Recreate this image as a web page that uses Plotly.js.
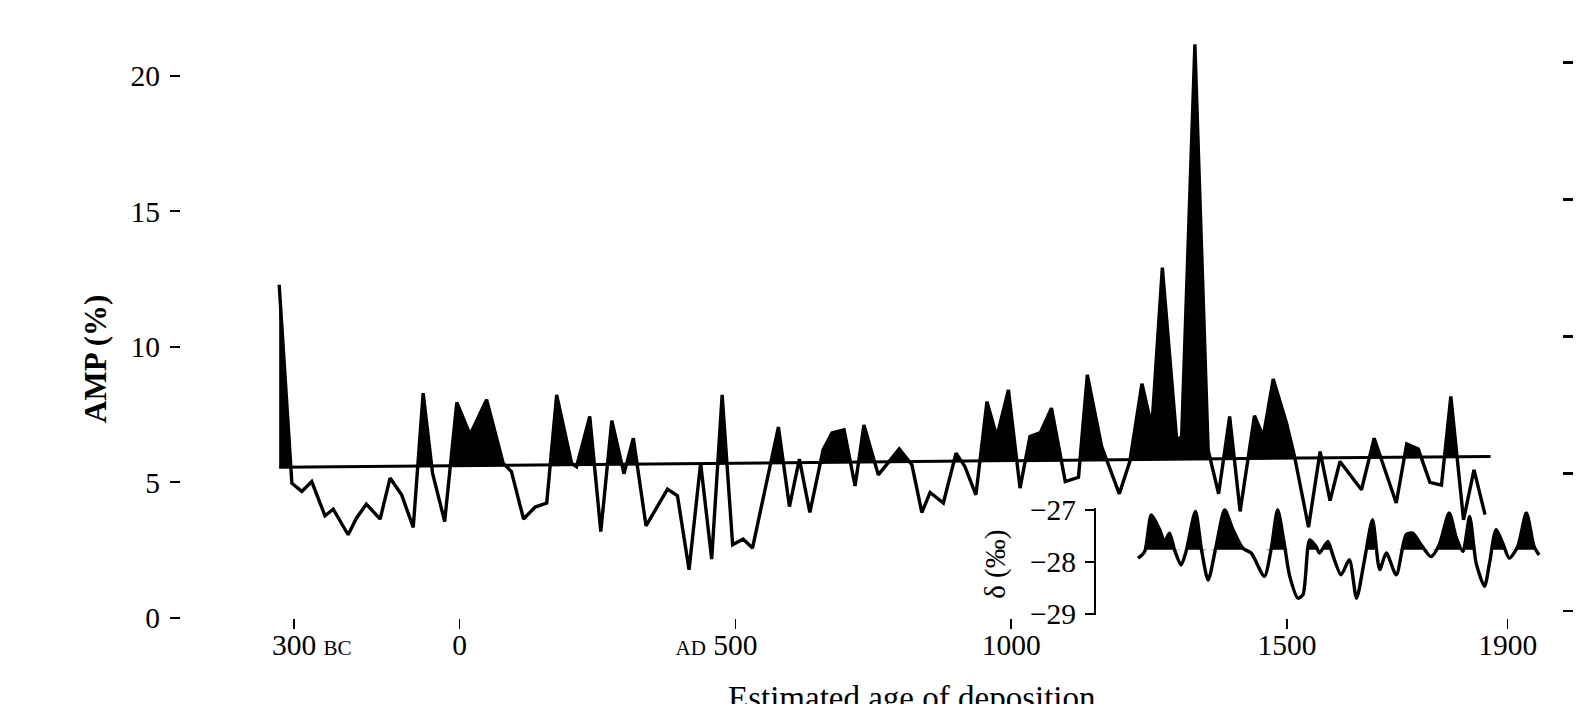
<!DOCTYPE html>
<html>
<head>
<meta charset="utf-8">
<script src="https://cdn.plot.ly/plotly-3.0.1.min.js"></script>
<style>
  html, body { margin: 0; padding: 0; background: #fff; }
  #chart { width: 1584px; height: 704px; }
</style>
</head>
<body>
<div id="chart"></div>
<script>
// ---- Data ----
const ampYears = [-327,-304,-286,-268,-244,-229,-202,-187,-169,-144,-126,-105,-84,-66,-49,-27,-5,19,49,79,94,116,137,158,176,203,212,236,256,276,298,315,338,377,395,416,437,457,476,495,514,531,578,598,616,635,659,675,697,717,733,759,797,820,838,853,877,900,916,936,956,974,995,1016,1034,1053,1073,1098,1122,1138,1164,1196,1215,1237,1255,1274,1300,1309,1333,1357,1376,1396,1415,1441,1457,1475,1499,1513,1539,1560,1578,1596,1635,1658,1698,1717,1738,1759,1780,1797,1820,1839,1859];
const ampValues = [12.29,4.97,4.67,5.03,3.77,4.01,3.07,3.68,4.20,3.65,5.16,4.54,3.34,8.29,5.34,3.56,7.95,6.76,8.05,5.71,5.40,3.65,4.09,4.24,8.23,5.71,5.58,7.43,3.19,7.28,5.32,6.63,3.40,4.75,4.51,1.78,5.71,2.17,8.23,2.70,2.91,2.58,7.04,4.11,5.86,3.89,6.20,6.82,6.94,4.87,7.12,5.28,6.23,5.65,3.89,4.63,4.24,6.08,5.59,4.54,7.98,6.69,8.41,4.79,6.69,6.84,7.74,5.03,5.19,8.97,6.32,4.58,5.77,8.64,7.06,12.92,6.57,6.69,21.16,6.20,4.58,7.43,3.93,7.46,6.69,8.81,7.19,6.02,3.35,6.14,4.33,5.77,4.73,6.63,4.24,6.42,6.23,5.00,4.90,8.17,3.62,5.46,3.81];

const trendYears = [-327, 1869];
const trendValues = [5.56, 5.96];

const deltaYears = [1230,1242,1254,1269,1278,1287,1296,1308,1317,1334,1345,1357,1372,1387,1402,1420,1435,1459,1471,1483,1494,1505,1520,1529,1541,1553,1559,1574,1583,1598,1613,1626,1640,1655,1668,1680,1698,1716,1728,1743,1761,1776,1794,1807,1819,1831,1843,1858,1867,1879,1891,1903,1918,1934,1948,1957];
const deltaValues = [-27.93,-27.80,-27.10,-27.38,-27.61,-27.45,-27.77,-28.06,-27.80,-27.03,-27.77,-28.35,-27.67,-27.00,-27.38,-27.74,-27.83,-28.28,-27.77,-27.00,-27.58,-28.28,-28.70,-28.63,-27.58,-27.71,-27.83,-27.61,-27.87,-28.25,-27.96,-28.70,-27.99,-27.19,-28.15,-27.83,-28.25,-27.48,-27.45,-27.67,-27.90,-27.67,-27.06,-27.54,-27.80,-27.13,-28.03,-28.47,-28.03,-27.38,-27.64,-27.93,-27.71,-27.06,-27.71,-27.87];
const deltaBaseline = [-27.77];

const xTickVals = [-300, 0, 500, 1000, 1500, 1900];
const xTickText = [
  '<span style="font-size:21px;color:rgba(0,0,0,0)">BC</span>\u00a0300\u00a0<span style="font-size:21px">BC</span>',
  '0',
  '<span style="font-size:21px">AD</span>\u00a0500\u00a0<span style="font-size:21px;color:rgba(0,0,0,0)">AD</span>',
  '1000', '1500', '1900'
];
const ampTickVals = [0, 5, 10, 15, 20];
const deltaTickVals = [-27, -28, -29];
const deltaTickText = ['\u221227', '\u221228', '\u221229'];
const rightTickVals = [0, 5, 10, 15, 20];

// ---- helpers: region above a reference line ----
function lerp(xs, ys, x) {
  if (xs.length === 1) return ys[0];
  const t = (x - xs[0]) / (xs[xs.length - 1] - xs[0]);
  return ys[0] + t * (ys[ys.length - 1] - ys[0]);
}
function aboveRegion(xs, ys, refFn) {
  const X = [], U = [], B = [];
  for (let i = 0; i < xs.length; i++) {
    const r = refFn(xs[i]);
    X.push(xs[i]); U.push(Math.max(ys[i], r)); B.push(r);
    if (i < xs.length - 1) {
      const d0 = ys[i] - r, d1 = ys[i + 1] - refFn(xs[i + 1]);
      if (d0 * d1 < 0) {
        const xc = xs[i] + (xs[i + 1] - xs[i]) * d0 / (d0 - d1);
        const rc = refFn(xc);
        X.push(xc); U.push(rc); B.push(rc);
      }
    }
  }
  return { X, U, B };
}

const ampReg = aboveRegion(ampYears, ampValues, x => lerp(trendYears, trendValues, x));
const delReg = aboveRegion(deltaYears, deltaValues, x => deltaBaseline[0]);

const ink = '#000000';
const traces = [
  { x: ampReg.X, y: ampReg.B, mode: 'lines', line: { width: 0, color: ink }, hoverinfo: 'skip', xaxis: 'x', yaxis: 'y' },
  { x: ampReg.X, y: ampReg.U, mode: 'lines', line: { width: 0, color: ink }, fill: 'tonexty', fillcolor: ink, hoverinfo: 'skip', xaxis: 'x', yaxis: 'y' },
  { x: trendYears, y: trendValues, mode: 'lines', line: { width: 3, color: ink }, xaxis: 'x', yaxis: 'y' },
  { x: ampYears, y: ampValues, mode: 'lines', line: { width: 3.4, color: ink, join: 'round' }, xaxis: 'x', yaxis: 'y' },
  { x: [], y: [], mode: 'lines', hoverinfo: 'skip', xaxis: 'x', yaxis: 'y2' },
  { x: delReg.X, y: delReg.B, mode: 'lines', line: { width: 0, color: ink }, hoverinfo: 'skip', xaxis: 'x', yaxis: 'y3' },
  { x: delReg.X, y: delReg.U, mode: 'lines', line: { width: 0, color: ink, shape: 'spline', smoothing: 0.7 }, fill: 'tonexty', fillcolor: ink, hoverinfo: 'skip', xaxis: 'x', yaxis: 'y3' },
  { x: deltaYears, y: deltaValues, mode: 'lines', line: { width: 3.4, color: ink, shape: 'spline', smoothing: 0.7 }, xaxis: 'x', yaxis: 'y3' }
];

// layout geometry (pixels)
const W = 1584, H = 704;
const mL = 181, mR = 22, mT = 35, mB = 85.8;
const pw = W - mL - mR, ph = H - mT - mB;
const px2paperX = px => (px - mL) / pw;
const px2paperY = py => (H - mB - py) / ph;

const tickFont = { family: 'Liberation Serif, Times New Roman, serif', size: 29.5, color: ink };

const layout = {
  width: W, height: H,
  margin: { l: mL, r: mR, t: mT, b: mB, pad: 0 },
  paper_bgcolor: '#ffffff', plot_bgcolor: 'rgba(0,0,0,0)',
  showlegend: false,
  font: { family: 'Liberation Serif, Times New Roman, serif', color: ink },
  xaxis: {
    range: [-505, 1998.5], showgrid: false, zeroline: false, showline: false,
    ticks: 'outside', ticklen: 10, tickwidth: 1.5, tickcolor: ink,
    tickmode: 'array', tickvals: xTickVals, ticktext: xTickText,
    tickfont: tickFont, ticklabelstandoff: -9, anchor: 'y'
  },
  yaxis: {
    range: [0, 21.5], showgrid: false, zeroline: false, showline: false,
    ticks: 'outside', ticklen: 10, tickwidth: 2, tickcolor: ink,
    tickmode: 'array', tickvals: ampTickVals, ticktext: ampTickVals.map(String),
    tickfont: tickFont, ticklabelstandoff: 4
  },
  yaxis2: {
    overlaying: 'y', side: 'right', anchor: 'x',
    range: [-0.263, 21.0], showgrid: false, zeroline: false, showline: false,
    ticks: 'outside', ticklen: 10, tickwidth: 2.5, tickcolor: ink,
    tickmode: 'array', tickvals: rightTickVals, showticklabels: false
  },
  yaxis3: {
    domain: [px2paperY(615.6), px2paperY(508.4)],
    range: [-29.03, -26.97],
    anchor: 'free', position: px2paperX(1095), side: 'left',
    showgrid: false, zeroline: false, showline: true, linewidth: 2, linecolor: ink,
    ticks: 'outside', ticklen: 9, tickwidth: 2, tickcolor: ink,
    tickmode: 'array', tickvals: deltaTickVals, ticktext: deltaTickText,
    tickfont: tickFont, ticklabelstandoff: 3
  },
  annotations: [
    { text: '<b>AMP (%)</b>', xref: 'paper', yref: 'paper', x: px2paperX(96), y: px2paperY(359),
      xanchor: 'center', yanchor: 'middle', textangle: -90, showarrow: false,
      font: { family: 'Liberation Serif, Times New Roman, serif', size: 31, color: ink } },
    { text: '\u03b4 (\u2030)', xref: 'paper', yref: 'paper', x: px2paperX(996), y: px2paperY(565),
      xanchor: 'center', yanchor: 'middle', textangle: -90, showarrow: false,
      font: { family: 'Liberation Serif, Times New Roman, serif', size: 29, color: ink } },
    { text: 'Estimated age of deposition', xref: 'paper', yref: 'paper', x: px2paperX(912), y: px2paperY(698.5),
      xanchor: 'center', yanchor: 'middle', showarrow: false,
      font: { family: 'Liberation Serif, Times New Roman, serif', size: 33, color: ink } }
  ]
};

Plotly.newPlot('chart', traces, layout, { displayModeBar: false, staticPlot: true });
</script>
</body>
</html>
